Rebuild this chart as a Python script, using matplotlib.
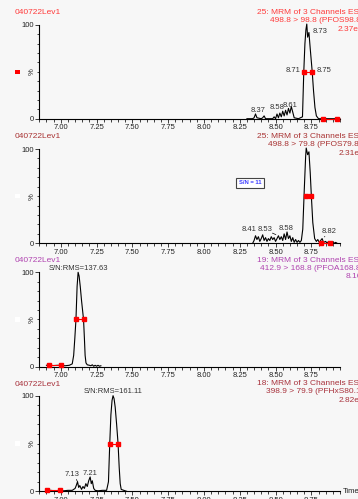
import numpy as np
import matplotlib.pyplot as plt
from matplotlib.ticker import MultipleLocator, FixedLocator

plt.rcParams['font.family'] = ['Liberation Sans', 'DejaVu Sans']

W, H = 358, 499
BG = '#f7f7f7'

# ---- traces (time in min, intensity in %) ----
t1 = [8.30, 8.34, 8.35, 8.36, 8.37, 8.40, 8.41, 8.42, 8.43, 8.48, 8.49, 8.50, 8.51, 8.52, 8.53,
      8.54, 8.55, 8.56, 8.57, 8.58, 8.59, 8.60, 8.61, 8.62, 8.63, 8.66, 8.688, 8.697, 8.705,
      8.712, 8.718, 8.724, 8.733, 8.742, 8.756, 8.765, 8.775, 8.785, 8.80, 8.95]
y1 = [0, 0, 1, 5, 1, 0, 1, 3, 0, 0, 2, 0, 5, 1, 6,
      2, 8, 3, 9, 4, 11, 6, 13, 7, 1, 0, 2, 50, 80,
      95, 101, 87, 92, 75, 50, 30, 12, 3, 0, 0]

t2 = [8.34, 8.35, 8.36, 8.37, 8.38, 8.39, 8.40, 8.41, 8.42, 8.43, 8.44, 8.45, 8.46, 8.47, 8.48,
      8.49, 8.50, 8.51, 8.52, 8.53, 8.54, 8.55, 8.56, 8.57, 8.58, 8.59, 8.60, 8.61, 8.62, 8.63,
      8.64, 8.65, 8.66, 8.67, 8.68, 8.69, 8.70, 8.71, 8.714, 8.724, 8.733, 8.742, 8.75, 8.76,
      8.773, 8.785, 8.795, 8.805, 8.815, 8.825, 8.835, 8.85, 8.86, 8.87, 8.88, 8.89, 8.90, 8.91,
      8.92, 8.93]
y2 = [0, 3, 8, 4, 7, 2, 5, 9, 3, 6, 2, 5, 3, 7, 4,
      6, 2, 5, 8, 4, 7, 3, 10, 4, 12, 5, 8, 2, 6, 1,
      4, 1, 3, 1, 3, 15, 55, 92, 101, 94, 97, 75, 50, 22,
      5, 2, 4, 1, 3, 5, 1, 2, 0, 2, 0, 1, 2, 0, 1, 0]

t3 = [6.90, 6.92, 6.95, 6.98, 7.00, 7.03, 7.06, 7.08, 7.09, 7.098, 7.106, 7.114, 7.121, 7.128,
      7.136, 7.145, 7.152, 7.159, 7.165, 7.170, 7.176, 7.185, 7.20, 7.21, 7.22, 7.23, 7.24, 7.25,
      7.26, 7.27, 7.28]
y3 = [1.5, 1.5, 1.2, 1.5, 1.5, 1.0, 1.5, 3, 12, 30, 50, 85, 100, 96,
      85, 70, 60, 50, 30, 12, 4, 2, 1.5, 1, 2, 0.5, 1.5, 0.5,
      1.5, 0.5, 1]

t4 = [6.90, 6.93, 6.96, 6.99, 7.02, 7.05, 7.08, 7.10, 7.108, 7.117, 7.125, 7.133, 7.145, 7.155,
      7.165, 7.175, 7.185, 7.195, 7.205, 7.213, 7.22, 7.23, 7.24, 7.26, 7.29, 7.32, 7.333, 7.342,
      7.350, 7.358, 7.365, 7.372, 7.380, 7.390, 7.400, 7.408, 7.415, 7.422, 7.44, 7.46]
y4 = [1, 1, 0.5, 1, 0.5, 1, 1, 3, 6, 10, 4, 6, 2, 5,
      3, 8, 5, 11, 15, 8, 11, 3, 1, 0.5, 1, 1, 10, 50,
      80, 95, 100, 97, 88, 70, 50, 25, 8, 2, 1, 0]

traces = [(t1, y1), (t2, y2), (t3, y3), (t4, y4)]

# half-height and baseline integration markers
half_marks = [([8.697, 8.756], [50, 50]), ([8.71, 8.75], [50, 50]),
              ([7.106, 7.159], [50, 50]), ([7.342, 7.40], [50, 50])]
base_marks = [([8.83, 8.93], [0, 0]), ([8.82, 8.883], [0, 0]),
              ([6.916, 7.005], [1.5, 1.5]), ([6.907, 6.993], [1, 1])]

# peak labels: (text, x, y, ha)
peak_labels = [
    [('8.37', 8.375, 9, 'center'), ('8.58', 8.508, 11.5, 'center'), ('8.61', 8.602, 14, 'center'),
     ('8.73', 8.759, 93, 'left'), ('8.71', 8.675, 51.5, 'right'), ('8.75', 8.785, 51.5, 'left')],
    [('8.41', 8.317, 14.5, 'center'), ('8.53', 8.427, 14.5, 'center'),
     ('8.58', 8.574, 15.5, 'center'), ('8.82', 8.873, 12, 'center')],
    [('S/N:RMS=137.63', 7.124, 104.5, 'center')],
    [('7.13', 7.082, 18, 'center'), ('7.21', 7.203, 18.5, 'center'),
     ('S/N:RMS=161.11', 7.363, 104, 'center')],
]

colors = ['#ff3b3b', '#a83232', '#b044b0', '#a8323c']
head1 = ['25: MRM of 3 Channels ES-', '25: MRM of 3 Channels ES-',
         '19: MRM of 3 Channels ES-', '18: MRM of 3 Channels ES-']
head2 = ['498.8 > 98.8 (PFOS98.8)', '498.8 > 79.8 (PFOS79.8)',
         '412.9 > 168.8 (PFOA168.8)', '398.9 > 79.9 (PFHxS80.1)']
head3 = ['2.37e4', '2.31e3', '8.16e4', '2.82e4']

# layout in pixels: (y of 100 %, y of 0 %), header line positions
y_top = [25.0, 149.0, 272.3, 395.7]
y_bot = [118.7, 243.3, 366.7, 491.3]
title_y = [12.3, 136.7, 260.0, 384.0]
head_y = [(13.0, 20.7, 29.3), (136.7, 145.0, 153.3), (261.0, 269.0, 277.0), (383.3, 391.7, 400.0)]
head_x = [(256.7, 270.0, 338.0), (256.7, 268.0, 339.0), (257.0, 260.0, 345.7), (257.0, 266.0, 339.0)]
ax_left, ax_right = 39.3, 340.0

fig = plt.figure(figsize=(W / 100, H / 100), dpi=100)
fig.patch.set_facecolor(BG)
FS = 5.5

for i, ((t, y), col) in enumerate(zip(traces, colors)):
    ax = fig.add_axes([ax_left / W, 1 - y_bot[i] / H, (ax_right - ax_left) / W,
                       (y_bot[i] - y_top[i]) / H])
    ax.set_facecolor(BG)
    ax.set_xlim(6.85, 8.95)
    ax.set_ylim(0, 100)
    for s in ['top', 'right']:
        ax.spines[s].set_visible(False)
    for s in ['left', 'bottom']:
        ax.spines[s].set_linewidth(0.8)
    ax.xaxis.set_major_locator(FixedLocator([7.0, 7.25, 7.5, 7.75, 8.0, 8.25, 8.5, 8.75]))
    ax.xaxis.set_minor_locator(MultipleLocator(0.05))
    ax.yaxis.set_major_locator(FixedLocator([0, 100]))
    ax.yaxis.set_minor_locator(MultipleLocator(10))
    ax.tick_params(which='major', length=3, width=0.6, labelsize=FS, pad=1, colors='#222222')
    ax.tick_params(which='minor', length=1.8, width=0.6, colors='#222222')
    ax.set_xticklabels(['7.00', '7.25', '7.50', '7.75', '8.00', '8.25', '8.50', '8.75'])
    ax.text(-0.012, 0.5, '%', rotation=90, fontsize=FS, transform=ax.transAxes,
            ha='right', va='center', color='#222222')

    ax.plot(t, y, color='black', lw=0.8, clip_on=False)
    hx, hy = half_marks[i]
    ax.plot(hx, hy, color='red', lw=0.8, marker='s', ms=3.5, mec='red', clip_on=False)
    bx, by = base_marks[i]
    ax.plot(bx, by, color='red', lw=0.8, marker='s', ms=3.5, mec='red', clip_on=False, zorder=5)

    for txt, lx, ly, ha in peak_labels[i]:
        ax.text(lx, ly, txt, fontsize=FS, ha=ha, va='center', color='#333333')

    fig.text(15 / W, 1 - title_y[i] / H, '040722Lev1', fontsize=6, color=col, va='center')
    for txt, hxp, hyp in zip([head1[i], head2[i], head3[i]], head_x[i], head_y[i]):
        fig.text(hxp / W, 1 - hyp / H, txt, fontsize=6.0, color=col, va='center')

    sq_y = (y_top[i] + y_bot[i]) / 2
    fig.add_artist(plt.Rectangle(((15.3) / W, 1 - (sq_y + 2.2) / H), 4.4 / W, 4.4 / H,
                                 transform=fig.transFigure,
                                 color='red' if i == 0 else 'white', lw=0))

    if i == 1:
        ax.text(8.32, 64, 'S/N = 11', fontsize=4.2, color='#3a3aff', ha='center', va='center',
                fontweight='bold',
                bbox=dict(boxstyle='square,pad=0.5', fc='white', ec='#444444', lw=0.8))
        ax.annotate('', xy=(8.52, 8), xytext=(8.46, 12),
                    arrowprops=dict(arrowstyle='-', lw=0.5, color='black'))
        ax.annotate('', xy=(8.825, 5), xytext=(8.86, 9),
                    arrowprops=dict(arrowstyle='-', lw=0.5, color='black'))
    if i == 0:
        ax.annotate('', xy=(8.36, 5), xytext=(8.375, 7),
                    arrowprops=dict(arrowstyle='-', lw=0.5, color='black'))
    if i == 3:
        ax.annotate('', xy=(7.117, 10), xytext=(7.10, 15),
                    arrowprops=dict(arrowstyle='-', lw=0.5, color='black'))
        fig.text(343 / W, 1 - y_bot[i] / H, 'Time', fontsize=FS, va='center', color='#222222')

fig.savefig('out.png', dpi=100, facecolor=BG)
